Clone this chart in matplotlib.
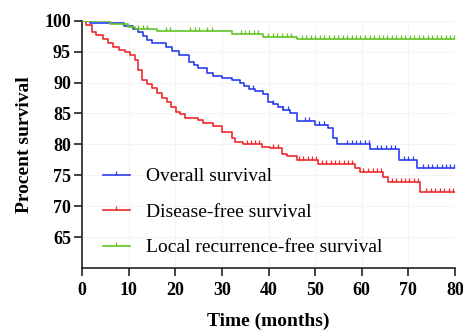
import numpy as np
import matplotlib
matplotlib.use("Agg")
from matplotlib import pyplot as plt
from matplotlib.lines import Line2D

# step curves (time in months, percent survival)
os_t = [0, 1.7, 9.0, 10.9, 12.0, 13.1, 13.9, 15.0, 18.0, 19.3, 20.8, 23.0, 24.0, 24.9,
        26.8, 28.1, 30.0, 32.2, 33.9, 34.8, 35.8, 37.1, 38.8, 39.9, 41.0, 42.1, 43.1,
        44.6, 46.1, 50.0, 52.8, 53.9, 54.7, 61.8, 68.0, 71.9, 80]
os_v = [100, 99.7, 99.2, 98.7, 98.2, 97.5, 96.9, 96.4, 95.7, 95.1, 94.4, 93.3, 92.8, 92.3,
        91.6, 91.1, 90.8, 90.4, 90.0, 89.4, 88.9, 88.6, 88.1, 86.9, 86.5, 86.1, 85.6,
        85.1, 83.8, 83.2, 82.6, 81.0, 80.0, 79.2, 77.4, 76.2, 76.2]

dfs_t = [0, 0.9, 2.1, 3.0, 4.5, 5.6, 6.7, 7.9, 9.2, 10.3, 11.4, 12.0, 12.9, 13.9, 15.0,
         16.1, 17.2, 18.2, 19.1, 20.2, 21.0, 22.1, 24.9, 26.0, 28.1, 30.0, 32.2, 32.8,
         34.5, 38.6, 40.3, 42.9, 44.0, 46.1, 50.6, 58.6, 59.7, 64.6, 65.7, 72.5, 80]
dfs_v = [100, 99.3, 98.2, 97.7, 97.1, 96.4, 95.8, 95.3, 94.9, 94.4, 93.6, 92.0, 90.4, 89.8,
         89.1, 88.3, 87.5, 86.9, 86.1, 85.3, 84.9, 84.2, 83.9, 83.5, 82.9, 82.0, 81.0,
         80.4, 80.0, 79.6, 79.4, 78.5, 78.1, 77.5, 76.9, 76.1, 75.5, 74.8, 73.9, 72.3, 72.3]

lrfs_t = [0, 6.0, 9.9, 11.4, 16.1, 32.2, 38.8, 46.1, 80]
lrfs_v = [100, 99.4, 99.0, 98.7, 98.3, 97.8, 97.4, 97.0, 97.0]

# censored observations
os_cens = [36.7, 41.0, 43.1, 44.2, 47.9, 48.7, 50.9, 51.9, 56.9, 57.8, 58.8, 59.7, 60.6,
           61.6, 63.3, 64.2, 65.2, 66.2, 67.2, 69.1, 70.0, 71.0, 73.2, 74.2, 75.1, 76.1,
           77.1, 78.0, 79.0, 79.8]
dfs_cens = [35.4, 36.3, 37.2, 38.0, 41.0, 42.1, 46.6, 47.5, 48.4, 49.3, 50.2, 51.5, 52.4,
            53.4, 54.3, 55.2, 56.1, 57.0, 57.9, 60.3, 61.3, 62.3, 63.2, 64.2, 66.5, 67.4,
            68.4, 69.3, 70.2, 71.2, 72.1, 73.8, 74.8, 75.7, 76.7, 77.6, 78.6, 79.6]
lrfs_cens = [12.0, 13.1, 13.9, 18.0, 18.9, 23.2, 24.2, 25.1, 26.8, 27.9, 34.1, 35.0, 35.8,
             36.9, 37.8, 39.9, 41.0, 41.8, 42.9, 44.0, 44.8, 47.2, 48.1, 49.1, 50.0, 51.1,
             51.9, 53.0, 54.0, 55.0, 55.9, 56.9, 57.8, 58.8, 59.7, 60.7, 61.7, 62.6, 63.6,
             64.5, 65.5, 66.5, 67.4, 68.4, 69.3, 70.3, 71.3, 72.2, 73.2, 74.1, 75.1, 76.1,
             77.0, 78.0, 78.9, 79.8]

labels = ["Overall survival", "Disease-free survival", "Local recurrence-free survival"]
colors = ["#2b3cf0", "#ee2a2e", "#62c424"]

SERIF = "Liberation Serif"


def step_value(ts, vs, x):
    i = np.searchsorted(ts, x, side="right") - 1
    return np.asarray(vs)[i]


fig = plt.figure(figsize=(4.64, 3.31), dpi=100)
ax = fig.add_axes([0.1767, 0.1903, 0.804, 0.7472])

series = [(os_t, os_v, os_cens), (dfs_t, dfs_v, dfs_cens), (lrfs_t, lrfs_v, lrfs_cens)]
for (ts, vs, cens), col in zip(series, colors):
    ax.step(ts, vs, where="post", color=col, lw=1.2, zorder=3)
    cy = step_value(ts, vs, cens)
    ax.plot(cens, cy, ls="none", marker=2, ms=3, mew=0.9, color=col, zorder=3)

ax.set_xlim(0, 80)
ax.set_ylim(60, 100)
ax.set_xticks(range(0, 81, 10))
ax.set_yticks(range(65, 101, 5))
ax.grid(True, color="#f2f2f2", lw=0.6, zorder=0)
ax.set_axisbelow(True)

for s in ["top", "right"]:
    ax.spines[s].set_visible(False)
for s in ["left", "bottom"]:
    ax.spines[s].set_linewidth(1.2)
    ax.spines[s].set_color("#222222")
ax.tick_params(direction="out", length=6, width=1.2, color="#222222", pad=2)
ax.tick_params(axis="x", pad=4)
for lab in ax.get_xticklabels() + ax.get_yticklabels():
    lab.set_fontfamily(SERIF)
    lab.set_fontweight("bold")
    lab.set_fontsize(13)

ax.set_xlabel("Time (months)", fontfamily=SERIF, fontweight="bold", fontsize=14, labelpad=10)
ax.set_ylabel("Procent survival", fontfamily=SERIF, fontweight="bold", fontsize=14, labelpad=8)

handles = [Line2D([0], [0], color=c, lw=1.2, marker=2, ms=3, mew=0.9) for c in colors]
ax.legend(handles, labels, loc="center left", bbox_to_anchor=(0.056, 0.226), frameon=False,
          borderpad=0, borderaxespad=0, numpoints=1, handlelength=1.4, handletextpad=0.8,
          labelspacing=0.92, prop={"family": SERIF, "size": 14})

fig.savefig("out.png", dpi=100)
